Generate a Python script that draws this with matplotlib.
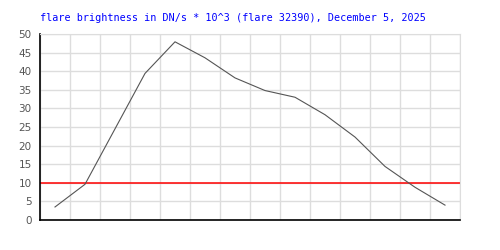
import numpy as np
import matplotlib
matplotlib.use("Agg")
import matplotlib.pyplot as plt

# flare brightness samples (DN/s * 10^3), one per grid cell
brightness = [3.5, 9.6, 24.5, 39.4, 47.9, 43.6, 38.2, 34.8, 33.0, 28.3, 22.3, 14.4, 8.8, 4.0]
threshold = 10
y_ticks = [0, 5, 10, 15, 20, 25, 30, 35, 40, 45, 50]
title = "flare brightness in DN/s * 10^3 (flare 32390), December 5, 2025"

fig = plt.figure(figsize=(5, 2.5), dpi=100)
ax = fig.add_axes([40 / 500, 30 / 250, 420 / 500, 186 / 250])

x = np.arange(len(brightness)) + 0.5
ax.plot(x, brightness, color="#555555", linewidth=0.8, zorder=3)
ax.axhline(threshold, color="#ff0000", linewidth=1.1, zorder=2)

ax.set_xlim(0, len(brightness))
ax.set_ylim(0, 50)
ax.set_xticks(np.arange(len(brightness) + 1))
ax.set_yticks(y_ticks)
ax.set_xticklabels([])
ax.grid(True, color="#dddddd", linewidth=1.0, zorder=0)
ax.set_axisbelow(True)
ax.tick_params(axis="x", length=0)
ax.tick_params(axis="y", length=0, labelsize=7.5, labelcolor="#555555", pad=6)

for side in ["top", "right"]:
    ax.spines[side].set_color("#dddddd")
for side in ["left", "bottom"]:
    ax.spines[side].set_color("black")
    ax.spines[side].set_linewidth(1.2)

fig.text(40 / 500, 1 - 18 / 250, title, color="blue", fontsize=7.25,
         family="DejaVu Sans Mono", va="center", ha="left")

fig.savefig("out.png", dpi=100, facecolor="white")
